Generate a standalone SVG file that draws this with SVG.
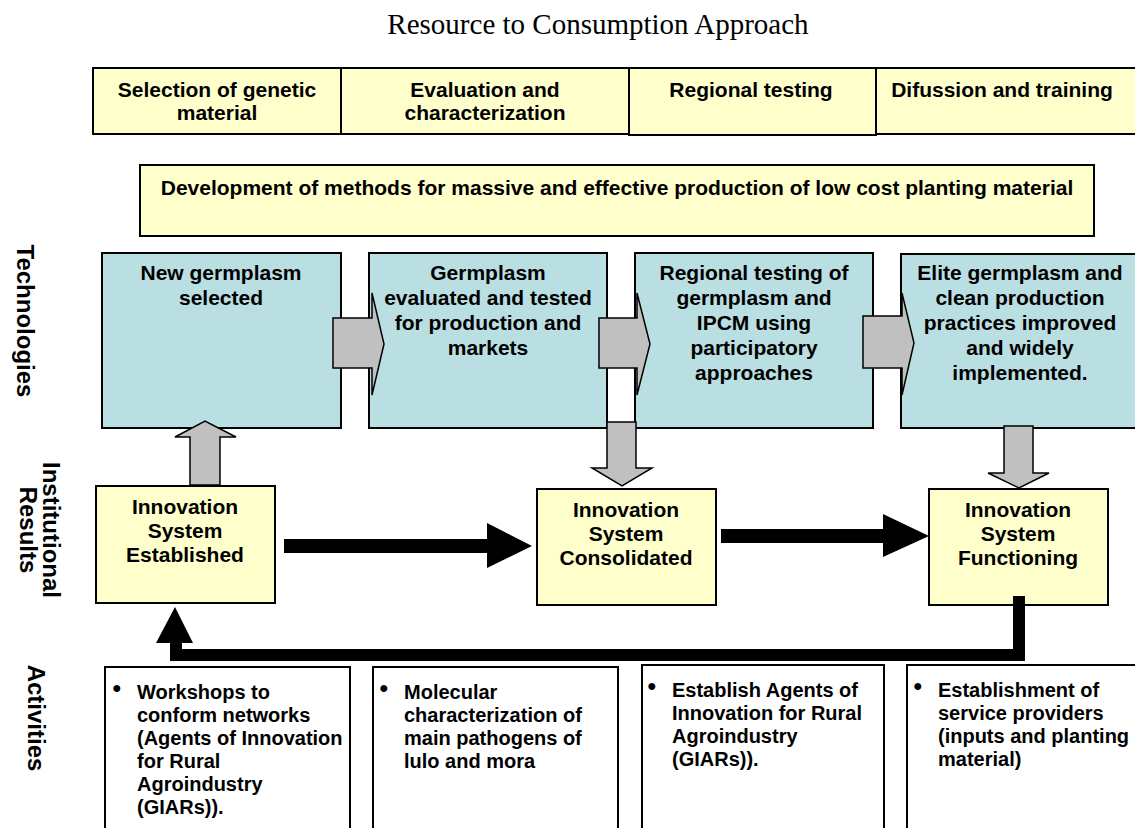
<svg xmlns="http://www.w3.org/2000/svg" width="1135" height="828" viewBox="0 0 1135 828">
<style>
.t{font-family:"Liberation Sans",Arial,sans-serif;font-weight:bold;fill:#000}
.c{text-anchor:middle}
.yb{fill:#FFFFCC;stroke:#000;stroke-width:2}
.tb{fill:#B9DFE2;stroke:#000;stroke-width:2}
.wb{fill:#fff;stroke:#000;stroke-width:2}
.ga{fill:#C0C0C0;stroke:#000;stroke-width:1.5;stroke-linejoin:miter}
.ba{fill:#000}
.bu{font-family:"Liberation Sans",Arial,sans-serif;font-size:16px;fill:#000}
</style>
<rect width="1135" height="828" fill="#fff"/>
<text x="598" y="34" font-family="'Liberation Serif','Times New Roman',serif" font-size="29" text-anchor="middle">Resource to Consumption Approach</text>

<g id="side-labels" class="t" font-size="24">
<text class="c" transform="translate(17,321) rotate(90)">Technologies</text>
<text class="c" transform="translate(43,530) rotate(90)">Institutional</text>
<text class="c" transform="translate(20,530) rotate(90)">Results</text>
<text class="c" transform="translate(28,718) rotate(90)">Activities</text>
</g>

<g id="phase1"><rect class="yb" x="93" y="68" width="248" height="66"/>
<text class="t c" font-size="21" x="217" y="97">Selection of genetic</text><text class="t c" font-size="21" x="217" y="120">material</text></g>
<g id="phase2"><rect class="yb" x="341" y="68" width="288" height="66"/>
<text class="t c" font-size="21" x="485" y="97">Evaluation and</text><text class="t c" font-size="21" x="485" y="120">characterization</text></g>
<g id="phase3"><rect class="yb" x="629" y="68" width="247" height="67"/>
<text class="t c" font-size="21" x="751" y="97">Regional testing</text></g>
<g id="phase4"><rect class="yb" x="876" y="68" width="262" height="66"/>
<text class="t c" font-size="21" x="1002" y="97">Difussion and training</text></g>

<g id="methods"><rect class="yb" x="140" y="165" width="954" height="71"/>
<text class="t c" font-size="21" x="617" y="195">Development of methods for massive and effective production of low cost planting material</text></g>

<g id="tech1"><rect class="tb" x="102" y="253" width="239" height="175"/>
<text class="t c" font-size="21" x="221" y="280">New germplasm</text><text class="t c" font-size="21" x="221" y="305">selected</text></g>
<g id="tech2"><rect class="tb" x="369" y="253" width="238" height="175"/>
<text class="t c" font-size="21" x="488" y="280">Germplasm</text><text class="t c" font-size="21" x="488" y="305">evaluated and tested</text><text class="t c" font-size="21" x="488" y="330">for production and</text><text class="t c" font-size="21" x="488" y="355">markets</text></g>
<g id="tech3"><rect class="tb" x="635" y="253" width="238" height="175"/>
<text class="t c" font-size="21" x="754" y="280">Regional testing of</text><text class="t c" font-size="21" x="754" y="305">germplasm and</text><text class="t c" font-size="21" x="754" y="330">IPCM using</text><text class="t c" font-size="21" x="754" y="355">participatory</text><text class="t c" font-size="21" x="754" y="380">approaches</text></g>
<g id="tech4"><rect class="tb" x="901" y="254" width="240" height="174"/>
<text class="t c" font-size="21" x="1020" y="280">Elite germplasm and</text><text class="t c" font-size="21" x="1020" y="305">clean production</text><text class="t c" font-size="21" x="1020" y="330">practices improved</text><text class="t c" font-size="21" x="1020" y="355">and widely</text><text class="t c" font-size="21" x="1020" y="380">implemented.</text></g>

<g id="inst1"><rect class="yb" x="96" y="486" width="179" height="117"/>
<text class="t c" font-size="21" x="185" y="514">Innovation</text><text class="t c" font-size="21" x="185" y="538">System</text><text class="t c" font-size="21" x="185" y="562">Established</text></g>
<g id="inst2"><rect class="yb" x="537" y="489" width="179" height="116"/>
<text class="t c" font-size="21" x="626" y="517">Innovation</text><text class="t c" font-size="21" x="626" y="541">System</text><text class="t c" font-size="21" x="626" y="565">Consolidated</text></g>
<g id="inst3"><rect class="yb" x="929" y="489" width="179" height="116"/>
<text class="t c" font-size="21" x="1018" y="517">Innovation</text><text class="t c" font-size="21" x="1018" y="541">System</text><text class="t c" font-size="21" x="1018" y="565">Functioning</text></g>

<g id="act1"><rect class="wb" x="105" y="667" width="245" height="175"/>
<text class="bu" x="112" y="693">●</text>
<g class="t" font-size="20"><text x="137" y="699">Workshops to</text><text x="137" y="722">conform networks</text><text x="137" y="745">(Agents of Innovation</text><text x="137" y="768">for Rural</text><text x="137" y="791">Agroindustry</text><text x="137" y="814">(GIARs)).</text></g></g>
<g id="act2"><rect class="wb" x="373" y="667" width="245" height="175"/>
<text class="bu" x="379" y="693">●</text>
<g class="t" font-size="20"><text x="404" y="699">Molecular</text><text x="404" y="722">characterization of</text><text x="404" y="745">main pathogens of</text><text x="404" y="768">lulo and mora</text></g></g>
<g id="act3"><rect class="wb" x="642" y="665" width="242" height="177"/>
<text class="bu" x="647" y="691">●</text>
<g class="t" font-size="20"><text x="672" y="697">Establish Agents of</text><text x="672" y="720">Innovation for Rural</text><text x="672" y="743">Agroindustry</text><text x="672" y="766">(GIARs)).</text></g></g>
<g id="act4"><rect class="wb" x="907" y="665" width="240" height="177"/>
<text class="bu" x="913" y="691">●</text>
<g class="t" font-size="20"><text x="938" y="697">Establishment of</text><text x="938" y="720">service providers</text><text x="938" y="743">(inputs and planting</text><text x="938" y="766">material)</text></g></g>

<g id="connectors">
<polygon class="ga" points="333,318 372,318 372,293 384,344 372,395 372,368 333,368"/>
<polygon class="ga" points="599,318 637,318 637,293 650,344 637,395 637,368 599,368"/>
<polygon class="ga" points="863,316 902,316 902,293 914,343 902,395 902,368 863,368"/>
<polygon class="ga" points="190,485 190,437 175,437 205,421 236,437 220,437 220,485"/>
<polygon class="ga" points="607,422 636,422 636,468 652,468 622,486 592,468 607,468"/>
<polygon class="ga" points="1004,426 1033,426 1033,473 1049,473 1019,488 988,473 1004,473"/>
<polygon class="ba" points="284,539 487,539 487,523 532,546 487,568 487,553 284,553"/>
<polygon class="ba" points="721,529 883,529 883,514 929,536 883,557 883,543 721,543"/>
<polygon class="ba" points="1013,596 1025,596 1025,661 170,661 170,643 156,643 175,607 193,643 182,643 182,649 1013,649"/>
</g>
</svg>
